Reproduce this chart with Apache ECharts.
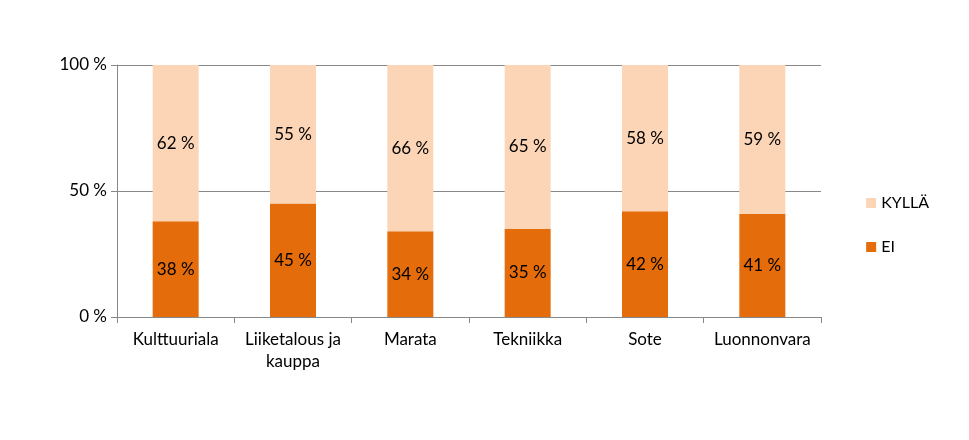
<!DOCTYPE html>
<html><head><meta charset="utf-8">
<script src="https://cdn.jsdelivr.net/npm/echarts@6/dist/echarts.min.js"></script>
<style>html,body{margin:0;padding:0;background:#fff}#c{width:969px;height:440px}</style>
</head><body><div id="c"></div>
<script>
const categories = ['Kulttuuriala','Liiketalous ja\nkauppa','Marata','Tekniikka','Sote','Luonnonvara'];
const ei = [38,45,34,35,42,41];
const kylla = [62,55,66,65,58,59];
const yTicks = [0,50,100];
const font = 'Lato, "Open Sans", sans-serif';
const chart = echarts.init(document.getElementById('c'));
const lbl = {show:true,position:'inside',formatter:p=>p.value+' %',color:'#000',fontSize:17,fontFamily:font};
chart.setOption({
  animation:false,
  grid:{left:117,right:148,top:65,bottom:123},
  legend:{orient:'vertical',right:35,top:190,itemWidth:10,itemHeight:10,itemGap:28,
    data:['KYLLÄ','EI'],textStyle:{fontSize:16,fontFamily:font,color:'#000'},icon:'rect'},
  xAxis:{type:'category',data:categories,
    axisLine:{lineStyle:{color:'#888'}},axisTick:{show:true,interval:0,length:6,lineStyle:{color:'#888'}},
    axisLabel:{interval:0,color:'#000',fontSize:17,fontFamily:font,lineHeight:22,margin:12}},
  yAxis:{type:'value',min:0,max:100,interval:50,
    axisLine:{show:true,lineStyle:{color:'#888'}},axisTick:{show:true,length:6,lineStyle:{color:'#888'}},
    splitLine:{lineStyle:{color:'#888'}},
    axisLabel:{color:'#000',fontSize:17,fontFamily:font,margin:10,formatter:v=>yTicks.includes(v)?v+' %':''}},
  series:[
    {name:'EI',type:'bar',stack:'a',barWidth:46,data:ei,itemStyle:{color:'#E46C0A'},label:lbl},
    {name:'KYLLÄ',type:'bar',stack:'a',barWidth:46,data:kylla,itemStyle:{color:'#FBD5B5'},label:lbl}
  ]
});
</script></body></html>
